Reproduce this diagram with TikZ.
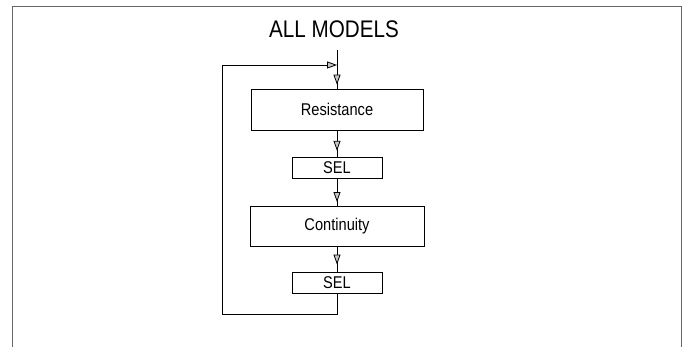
\documentclass[tikz,border=0pt]{standalone}
\usepackage{fontspec}
\setmainfont{Liberation Sans}[FakeStretch=0.86]
\usetikzlibrary{arrows.meta,decorations.markings}
\begin{document}
\begin{tikzpicture}[x=1pt,y=-1pt,
  box/.style={draw, line width=0.9pt, minimum height=#1, inner sep=0pt, font=\fontsize{17}{19}\selectfont, anchor=center},
  tip/.style={-{Triangle[length=10pt,width=7pt,fill=gray!45]}},
  flow/.style={line width=0.8pt},
  midtip/.style={flow, postaction={decorate}, decoration={markings, mark=at position #1 with {\arrow{Triangle[length=10pt,width=7pt,fill=gray!45]}}}},
  frame/.style={line width=0.7pt, draw=black!60}]
\useasboundingbox (0,0) rectangle (687,347);
\draw[frame] (12,347) -- (12,6) -- (681,6) -- (681,347);
\node[font=\fontsize{24}{27}\selectfont] (title) at (334,29) {ALL MODELS};
\node[box=41pt, minimum width=172pt] (res) at (337,109.5) {Resistance};
\node[box=21pt, minimum width=90pt] (sel1) at (337,167.5) {SEL};
\node[box=40pt, minimum width=174pt] (cont) at (337,226) {Continuity};
\node[box=21pt, minimum width=90pt] (sel2) at (337,282.5) {SEL};
\coordinate (in) at (337,50);
\coordinate (join) at (337,65);
\coordinate (lb) at (222,314);
\coordinate (lt) at (222,65);
\draw[midtip=0.9] (in) -- (res.north);
\draw[midtip=0.78] (res.south) -- (sel1.north);
\draw[midtip=0.87] (sel1.south) -- (cont.north);
\draw[midtip=0.72] (cont.south) -- (sel2.north);
\draw[flow, tip] (sel2.south) |- (lb) -- (lt) -- (join);
\end{tikzpicture}
\end{document}
